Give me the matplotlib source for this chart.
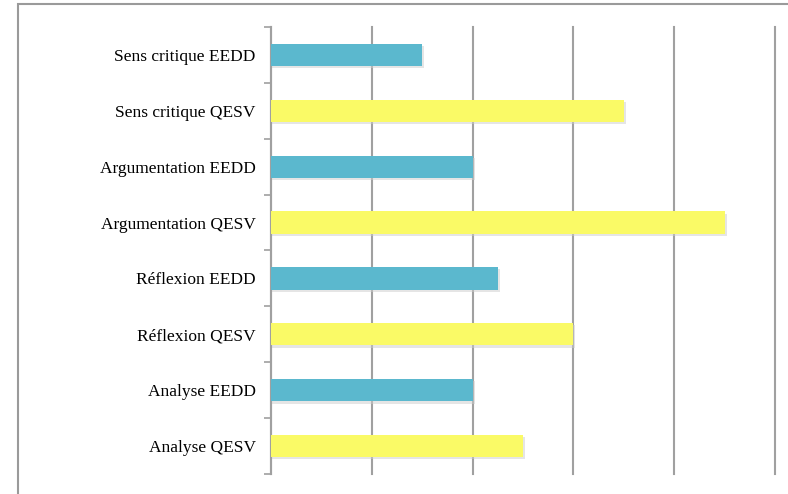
import matplotlib
matplotlib.use("Agg")
import matplotlib.pyplot as plt
from matplotlib.patches import Rectangle

categories = ["Sens critique EEDD", "Sens critique QESV",
              "Argumentation EEDD", "Argumentation QESV",
              "Réflexion EEDD", "Réflexion QESV",
              "Analyse EEDD", "Analyse QESV"]
values = [1.5, 3.5, 2.0, 4.5, 2.25, 3.0, 2.0, 2.5]
groups = ["EEDD", "QESV", "EEDD", "QESV", "EEDD", "QESV", "EEDD", "QESV"]
colors_map = {"EEDD": "#5BB8CE", "QESV": "#FAFA66"}

fig = plt.figure(figsize=(7.88, 4.94), dpi=100)
fig.patch.set_facecolor("white")
ax = fig.add_axes([271/788, 1-474/494, (775-271)/788, (474-27)/494])

ypos = list(range(len(categories)))
bar_colors = [colors_map[g] for g in groups]
# subtle shadow
ax.barh([y + 0.04 for y in ypos], [v + 0.02 for v in values], height=0.4,
        color="#cccccc", alpha=0.5, zorder=2, left=0)
ax.barh(ypos, values, height=0.4, color=bar_colors, zorder=3)

ax.set_xlim(0, 5)
ax.set_ylim(len(categories) - 0.5, -0.5)
ax.set_xticks([0, 1, 2, 3, 4, 5])
ax.set_xticklabels([])
ax.tick_params(axis="x", length=0)
ax.xaxis.grid(True, color="#a0a0a0", linewidth=1.5, zorder=1)
ax.set_axisbelow(True)
for gl in ax.get_xgridlines():
    gl.set_clip_on(False)

ax.set_yticks(ypos)
ax.set_yticklabels(categories, fontsize=12.5, family="Liberation Serif")
ax.tick_params(axis="y", length=0, pad=11)
ax.set_yticks([y - 0.5 for y in ypos] + [len(categories) - 0.5], minor=True)
ax.tick_params(axis="y", which="minor", length=5, width=1.2, color="#a0a0a0")

for s in ["top", "right", "bottom"]:
    ax.spines[s].set_visible(False)
ax.spines["left"].set_color("#a0a0a0")
ax.spines["left"].set_linewidth(1.5)

fig.patches.append(Rectangle((18/788, -0.1), 1.2, 1 - 4/494 + 0.1,
                             transform=fig.transFigure, fill=False,
                             edgecolor="#9a9a9a", linewidth=1.5))

fig.savefig("out.png", dpi=100)
